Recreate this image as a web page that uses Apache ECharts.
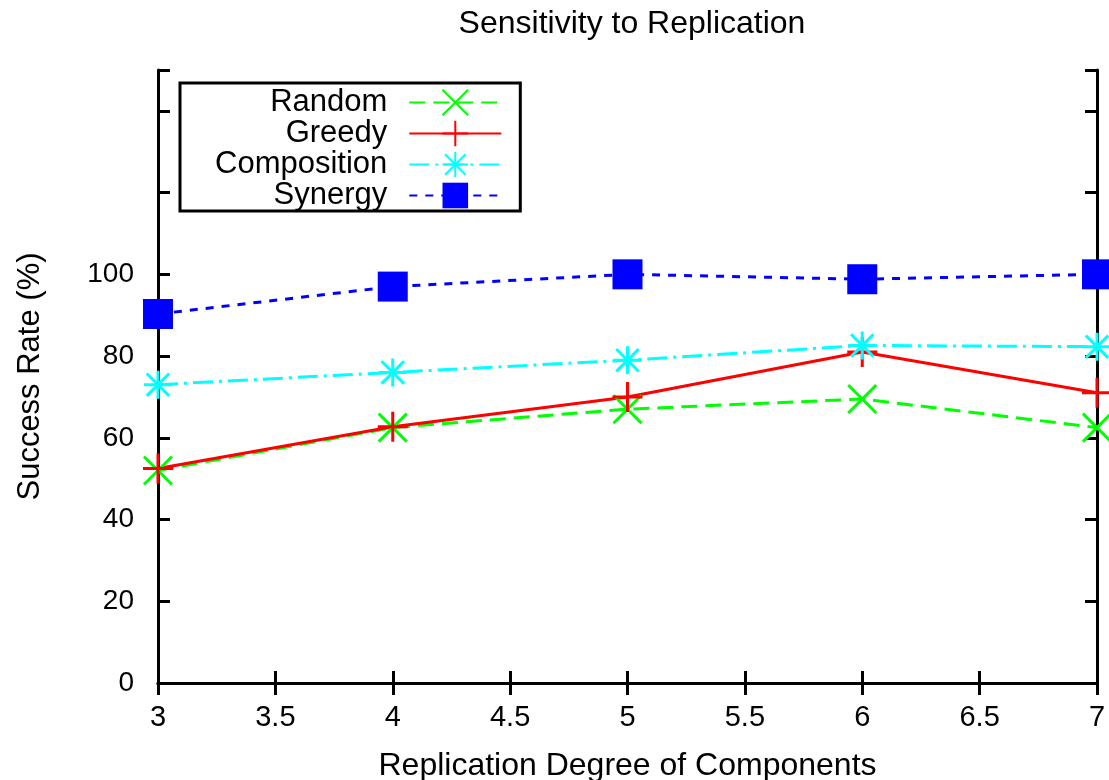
<!DOCTYPE html>
<html>
<head>
<meta charset="utf-8">
<script src="https://cdn.jsdelivr.net/npm/echarts@6/dist/echarts.min.js"></script>
<style>
  html, body { margin: 0; padding: 0; background: #fff; }
  #chart { width: 1109px; height: 780px; }
</style>
</head>
<body>
<div id="chart"></div>
<script>
var replication = [3, 4, 5, 6, 7];
var randomRate = [52, 62.5, 67, 69.5, 62.5];
var greedyRate = [52.5, 62.7, 70, 81, 71];
var compositionRate = [73, 76, 79, 82.6, 82.3];
var synergyRate = [90.3, 97, 100, 98.8, 100];

var FONT = 'Liberation Sans, Arial, sans-serif';

function pairs(ys) {
    return replication.map(function (x, i) { return [x, ys[i]]; });
}

// gnuplot style point shapes, drawn as strokes
var crossX = 'path://M0,0L10,10M10,0L0,10';
var plus = 'path://M5,0L5,10M0,5L10,5';
var star = 'path://M5,0L5,10M0,5L10,5M1,1L9,9M9,1L1,9';

function mkSeries(name, ys, color, dash, symbol, size) {
    return {
        name: name,
        type: 'line',
        data: pairs(ys),
        symbol: symbol,
        symbolSize: size,
        showAllSymbol: true,
        animation: false,
        lineStyle: { color: color, width: 3, type: dash },
        itemStyle: { color: color, borderColor: color, borderWidth: symbol === 'rect' ? 0 : 3 }
    };
}

var frameAxis = {
    lineStyle: { color: '#000', width: 3 }
};

var chart = echarts.init(document.getElementById('chart'));
chart.setOption({
    backgroundColor: '#fff',
    animation: false,
    textStyle: { fontFamily: FONT },
    title: {
        text: 'Sensitivity to Replication',
        left: 627,
        top: 3,
        textAlign: 'center',
        textStyle: { fontFamily: FONT, fontSize: 32, fontWeight: 'normal', color: '#000' }
    },
    legend: {
        orient: 'vertical',
        align: 'right',
        left: 180,
        top: 83,
        padding: [4, 18, 0, 35],
        itemWidth: 92,
        itemHeight: 32,
        itemGap: 0,
        borderColor: '#000',
        borderWidth: 3,
        textStyle: { fontFamily: FONT, fontSize: 31, color: '#000', padding: [0, 17, 0, 0] },
        data: ['Random', 'Greedy', 'Composition', 'Synergy']
    },
    grid: { left: 158, right: 12, top: 70, bottom: 97, outerBoundsMode: 'none' },
    xAxis: [{
        type: 'value',
        min: 3,
        max: 7,
        interval: 0.5,
        name: 'Replication Degree of Components',
        nameLocation: 'middle',
        nameGap: 67,
        nameTextStyle: { fontFamily: FONT, fontSize: 32, color: '#000' },
        axisLine: frameAxis,
        axisTick: { inside: true, length: 12, lineStyle: { color: '#000', width: 3 } },
        axisLabel: { fontFamily: FONT, fontSize: 29, color: '#000', margin: 20 },
        splitLine: { show: false }
    }, {
        type: 'value',
        position: 'top',
        min: 3,
        max: 7,
        interval: 0.5,
        axisLine: frameAxis,
        axisTick: { inside: true, length: 12, lineStyle: { color: '#000', width: 3 } },
        axisLabel: { show: false },
        splitLine: { show: false }
    }],
    yAxis: [{
        type: 'value',
        min: 0,
        max: 150,
        interval: 20,
        name: 'Success Rate (%)',
        nameLocation: 'middle',
        nameGap: 112,
        nameRotate: 90,
        nameTextStyle: { fontFamily: FONT, fontSize: 31, color: '#000' },
        axisLine: { show: true, lineStyle: { color: '#000', width: 3 } },
        axisTick: { show: true, inside: true, length: 12, lineStyle: { color: '#000', width: 3 } },
        axisLabel: {
            fontFamily: FONT, fontSize: 28, color: '#000', margin: 24,
            formatter: function (v) { return v <= 100 ? String(v) : ''; }
        },
        splitLine: { show: false }
    }, {
        type: 'value',
        position: 'right',
        min: 0,
        max: 150,
        interval: 20,
        axisLine: { show: true, lineStyle: { color: '#000', width: 3 } },
        axisTick: { show: true, inside: true, length: 12, lineStyle: { color: '#000', width: 3 } },
        axisLabel: { show: false },
        splitLine: { show: false }
    }],
    series: [
        mkSeries('Random', randomRate, '#00ff00', [16, 8], crossX, 28),
        mkSeries('Greedy', greedyRate, '#ff0000', 'solid', plus, 30),
        mkSeries('Composition', compositionRate, '#00ffff', [20, 6, 3, 6], star, 28),
        mkSeries('Synergy', synergyRate, '#0000ff', [8, 8], 'rect', 30)
    ]
});
</script>
</body>
</html>
